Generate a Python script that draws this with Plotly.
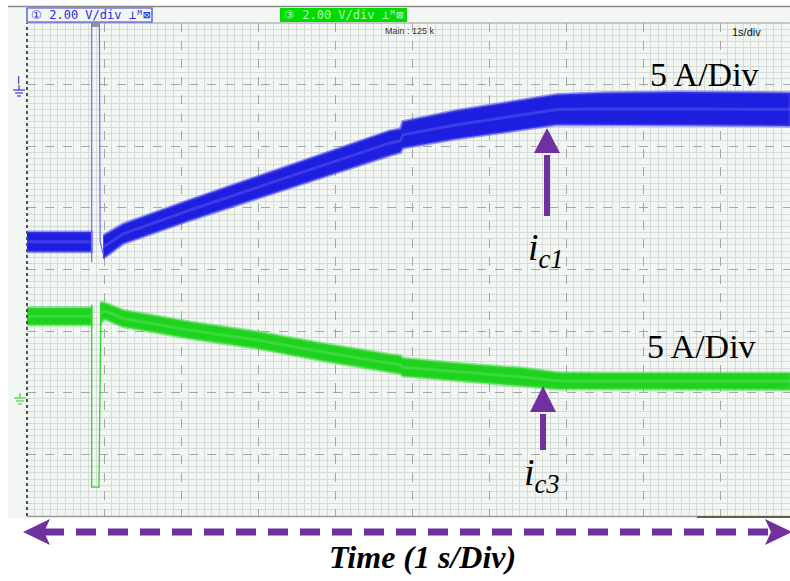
import plotly.graph_objects as go

# ---------------- data (time in divisions, 1 s/div; amplitude in divisions) ----------------
blue_pre_t = [0.0, 0.84]
blue_pre_hi = [4.61, 4.61]
blue_pre_lo = [4.29, 4.29]
blue_t = [0.99, 1.25, 2.12, 2.99, 3.84, 4.71, 4.85, 4.88, 5.58, 6.44, 6.88, 7.5, 8.5, 9.91]
blue_hi = [4.55, 4.74, 5.13, 5.51, 5.88, 6.25, 6.28, 6.40, 6.58, 6.75, 6.84, 6.87, 6.88, 6.87]
blue_lo = [4.18, 4.42, 4.80, 5.16, 5.50, 5.85, 5.90, 5.97, 6.12, 6.27, 6.35, 6.35, 6.34, 6.33]
blue_spike_t = [0.84, 0.84, None, 0.94, 0.95, 0.99]
blue_spike_v = [8.0, 4.12, None, 8.0, 4.45, 4.25]

green_pre_t = [0.0, 0.84]
green_pre_hi = [3.38, 3.38]
green_pre_lo = [3.10, 3.10]
green_t = [0.95, 1.0, 1.25, 2.12, 2.99, 3.84, 4.71, 4.85, 4.88, 5.58, 6.44, 6.88, 7.5, 9.91]
green_hi = [3.47, 3.46, 3.34, 3.15, 2.99, 2.80, 2.62, 2.60, 2.56, 2.48, 2.40, 2.33, 2.32, 2.32]
green_lo = [3.10, 3.20, 3.07, 2.88, 2.72, 2.52, 2.34, 2.31, 2.27, 2.20, 2.11, 2.06, 2.05, 2.05]
green_spike_t = [0.84, 0.84, 0.935, 0.95, 0.96]
green_spike_v = [3.43, 0.47, 0.47, 3.30, 3.45]

ch1_label = "① 2.00 V/div"
ch3_label = "③ 2.00 V/div"
scale_label = "5 A/Div"
time_label = "Time (1 s/Div)"

# ---------------- geometry helpers (pixels -> paper) ----------------
W, H = 790, 581
L, R, T, B = 27, 0, 23, 65
PW, PH = W - L - R, H - T - B


def px(x):
    return (x - L) / PW


def py(y):
    return (H - B - y) / PH


BLUE = "#1e1ede"
BLUE_EDGE = "rgba(70,70,240,0.55)"
BLUE_IN = "#6060f8"
GREEN = "#1fd21f"
GREEN_EDGE = "rgba(60,220,60,0.55)"
GREEN_IN = "#5ae85a"
PURPLE = "#7030a0"

fig = go.Figure()


def band(t, hi, lo, color, edge, inner):
    fig.add_trace(go.Scatter(
        x=list(t) + list(t)[::-1], y=list(hi) + list(lo)[::-1],
        fill="toself", fillcolor=color, mode="lines",
        line=dict(color=edge, width=3), hoverinfo="skip", showlegend=False))
    mid = [(a + b) / 2 for a, b in zip(hi, lo)]
    fig.add_trace(go.Scatter(
        x=t, y=mid, mode="lines", line=dict(color=inner, width=3),
        opacity=0.45, hoverinfo="skip", showlegend=False))


band(blue_pre_t, blue_pre_hi, blue_pre_lo, BLUE, BLUE_EDGE, BLUE_IN)
band(blue_t, blue_hi, blue_lo, BLUE, BLUE_EDGE, BLUE_IN)
fig.add_trace(go.Scatter(x=blue_spike_t, y=blue_spike_v, mode="lines",
                         line=dict(color="#6a6aff", width=1.2),
                         hoverinfo="skip", showlegend=False))
band(green_pre_t, green_pre_hi, green_pre_lo, GREEN, GREEN_EDGE, GREEN_IN)
band(green_t, green_hi, green_lo, GREEN, GREEN_EDGE, GREEN_IN)
fig.add_trace(go.Scatter(x=green_spike_t, y=green_spike_v, mode="lines",
                         line=dict(color="#2ad82a", width=1.3),
                         hoverinfo="skip", showlegend=False))

shapes = []
# scope frame regions in margins
shapes.append(dict(type="rect", xref="paper", yref="paper",
                   x0=px(8), x1=px(27), y0=py(518), y1=py(7),
                   fillcolor="#f3f7f4", line=dict(width=0), layer="below"))
shapes.append(dict(type="rect", xref="paper", yref="paper",
                   x0=px(8), x1=px(790), y0=py(23), y1=py(7),
                   fillcolor="#f3f7f4", line=dict(width=0), layer="below"))
shapes.append(dict(type="line", xref="paper", yref="paper",
                   x0=px(8), x1=px(790), y0=py(6.5), y1=py(6.5),
                   line=dict(color="#8a8a8a", width=1.5)))
# plot borders
shapes.append(dict(type="line", xref="paper", yref="paper",
                   x0=px(27), x1=px(27), y0=py(516), y1=py(23),
                   line=dict(color="#505050", width=2, dash="dot")))
shapes.append(dict(type="line", xref="paper", yref="paper",
                   x0=px(27), x1=px(790), y0=py(23), y1=py(23),
                   line=dict(color="#9a9a9a", width=1)))
shapes.append(dict(type="line", xref="paper", yref="paper",
                   x0=px(27), x1=px(790), y0=py(516.5), y1=py(516.5),
                   line=dict(color="#9a9a9a", width=1.5)))
shapes.append(dict(type="line", xref="paper", yref="paper",
                   x0=px(697), x1=px(790), y0=py(517), y1=py(517),
                   line=dict(color="#5e5e48", width=2)))
# trigger marker at top
shapes.append(dict(type="rect", xref="paper", yref="paper",
                   x0=px(92), x1=px(100), y0=py(27), y1=py(23),
                   fillcolor="#9090a8", line=dict(width=0)))
# channel boxes
shapes.append(dict(type="rect", xref="paper", yref="paper",
                   x0=px(27), x1=px(152), y0=py(22), y1=py(8),
                   line=dict(color="#3a3ae0", width=1.2)))
shapes.append(dict(type="rect", xref="paper", yref="paper",
                   x0=px(280), x1=px(407), y0=py(22), y1=py(8),
                   fillcolor="#00dc00", line=dict(width=0)))
# ground markers
for (gx, gy, col) in [(19, 90, "#3a3ae0"), (20, 398, "#3ad83a")]:
    for i, hw in enumerate([6, 4, 2]):
        shapes.append(dict(type="line", xref="paper", yref="paper",
                           x0=px(gx - hw), x1=px(gx + hw),
                           y0=py(gy + 3 * i), y1=py(gy + 3 * i),
                           line=dict(color=col, width=1.2)))
    shapes.append(dict(type="line", xref="paper", yref="paper",
                       x0=px(gx), x1=px(gx), y0=py(gy - 5), y1=py(gy),
                       line=dict(color=col, width=1.2)))
# purple vertical arrows
for (ax, y_tail, y_base, y_tip) in [(547, 216, 153, 128), (543, 450, 412, 386)]:
    shapes.append(dict(type="line", xref="paper", yref="paper",
                       x0=px(ax), x1=px(ax), y0=py(y_tail), y1=py(y_base + 2),
                       line=dict(color=PURPLE, width=6)))
    shapes.append(dict(type="path", xref="paper", yref="paper",
                       path=f"M {px(ax)} {py(y_tip)} L {px(ax - 13)} {py(y_base)} "
                            f"L {px(ax + 13)} {py(y_base)} Z",
                       fillcolor=PURPLE, line=dict(width=0)))
# bottom dashed double arrow
shapes.append(dict(type="line", xref="paper", yref="paper",
                   x0=px(44), x1=px(770), y0=py(532), y1=py(532),
                   line=dict(color=PURPLE, width=7, dash="20px,12px")))
shapes.append(dict(type="path", xref="paper", yref="paper",
                   path=f"M {px(23)} {py(532)} L {px(50)} {py(519)} L {px(44)} {py(532)} "
                        f"L {px(50)} {py(545)} Z",
                   fillcolor=PURPLE, line=dict(width=0)))
shapes.append(dict(type="path", xref="paper", yref="paper",
                   path=f"M {px(792)} {py(532)} L {px(765)} {py(519)} L {px(771)} {py(532)} "
                        f"L {px(765)} {py(545)} Z",
                   fillcolor=PURPLE, line=dict(width=0)))

annotations = []


def note(x, y, text, size, color="black", family="Liberation Serif", xanchor="center"):
    annotations.append(dict(xref="paper", yref="paper", x=px(x), y=py(y), text=text,
                            showarrow=False, xanchor=xanchor, yanchor="middle",
                            font=dict(size=size, color=color, family=family)))


note(29, 15, ch1_label + " ⊥ᴹ⊠", 12, "#2a2ae0", "DejaVu Sans Mono", "left")
note(282, 15, ch3_label + " ⊥ᴹ⊠", 12, "#b4f7b4", "DejaVu Sans Mono", "left")
note(410, 31, "Main : 125 k", 9, "#333333", "Liberation Sans")
note(746, 32, "1s/div", 11, "#111111", "Liberation Sans")
note(18, 80, "I", 11, "#2a2ae0", "Liberation Sans")
note(704, 74, scale_label, 34)
note(701, 346, scale_label, 34)
note(546, 250, "<i>i</i><sub><i>c1</i></sub>", 38)
note(542, 475, "<i>i</i><sub><i>c3</i></sub>", 38)
note(422, 557, f"<b><i>{time_label}</i></b>", 32)

fig.update_layout(
    width=W, height=H,
    margin=dict(l=L, r=R, t=T, b=B, pad=0),
    paper_bgcolor="white", plot_bgcolor="#f3f7f4",
    shapes=shapes, annotations=annotations, showlegend=False,
    xaxis=dict(range=[0, PW / 77.0], dtick=1, tick0=0, showticklabels=False, ticks="",
               showgrid=True, gridcolor="#a4a8a5", gridwidth=1, griddash="dash",
               minor=dict(dtick=0.1, showgrid=True, gridcolor="#d7dbd8", gridwidth=1,
                          griddash="solid"),
               zeroline=False, showline=False, fixedrange=True),
    yaxis=dict(range=[0, 8], dtick=1, tick0=0, showticklabels=False, ticks="",
               showgrid=True, gridcolor="#a4a8a5", gridwidth=1, griddash="dash",
               minor=dict(dtick=0.1, showgrid=True, gridcolor="#d7dbd8", gridwidth=1,
                          griddash="solid"),
               zeroline=False, showline=False, fixedrange=True),
)

fig.write_html("out.html", config={"displayModeBar": False},
               post_script="document.body.style.margin='0px';document.body.style.overflow='hidden';")
